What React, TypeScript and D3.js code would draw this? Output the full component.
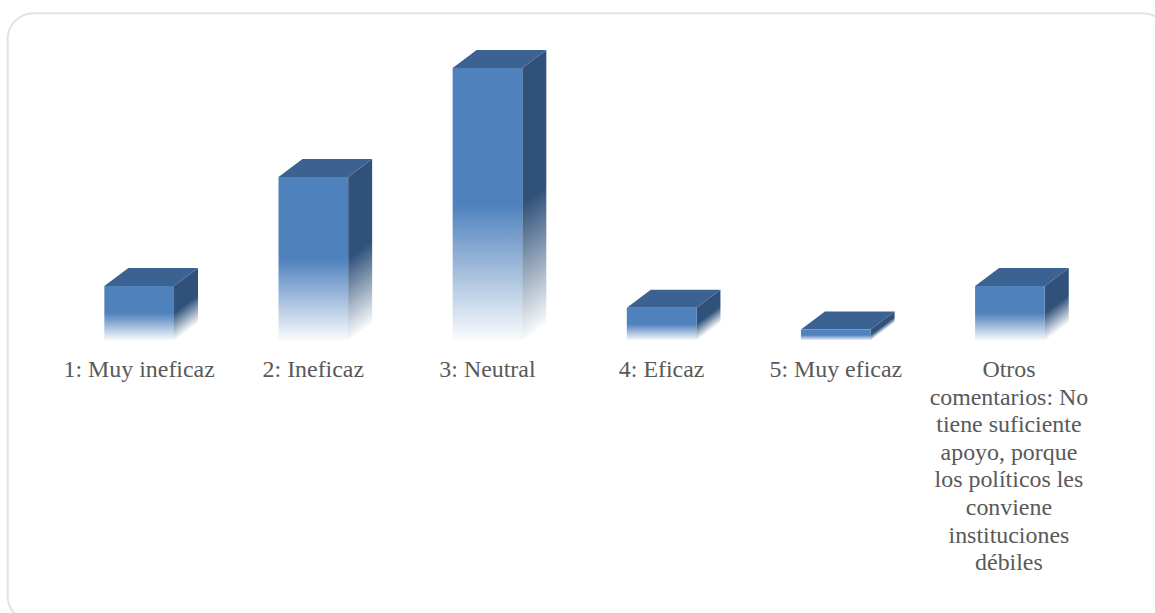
import React from "react";
import * as d3 from "d3";

const categories = ["1: Muy ineficaz", "2: Ineficaz", "3: Neutral", "4: Eficaz", "5: Muy eficaz", "Otros comentarios"];
const categoryLines = [
  ["1: Muy ineficaz"],
  ["2: Ineficaz"],
  ["3: Neutral"],
  ["4: Eficaz"],
  ["5: Muy eficaz"],
  ["Otros", "comentarios: No", "tiene suficiente", "apoyo, porque", "los políticos les", "conviene", "instituciones", "débiles"],
];
const values = [5, 15, 25, 3, 1, 5];

const width = 1155;
const height = 613;
const depthX = 24;
const depthY = 18;
const baseY = 340.5;

const x = d3.scaleBand<string>().domain(categories).range([52.1, 1097]).paddingInner(0.6).paddingOuter(0.3);
const y = d3.scaleLinear().domain([0, 25]).range([baseY, 68]);

export default function App() {
  const barW = x.bandwidth();
  return (
    <svg
      width={width}
      height={height}
      viewBox={`0 0 ${width} ${height}`}
      style={{ position: "fixed", left: 0, top: 0, display: "block", background: "#fff" }}
    >
      <defs>
        {values.map((v, i) => {
          const x0 = x(categories[i])! + barW;
          const top = y(v);
          const slope = -depthY / depthX;
          return (
            <React.Fragment key={i}>
              <linearGradient id={`front-${i}`} gradientUnits="userSpaceOnUse" x1={0} x2={0} y1={top} y2={baseY}>
                <stop offset="0" stopColor="#4f81bd" />
                <stop offset="0.5" stopColor="#4f81bd" />
                <stop offset="1" stopColor="#4f81bd" stopOpacity={0.03} />
              </linearGradient>
              <linearGradient
                id={`side-${i}`}
                gradientUnits="userSpaceOnUse"
                x1={0}
                x2={0}
                y1={top}
                y2={baseY}
                gradientTransform={`translate(${x0} 0) matrix(1 ${slope} 0 1 0 0) translate(${-x0} 0)`}
              >
                <stop offset="0" stopColor="#30527a" />
                <stop offset="0.5" stopColor="#30527a" />
                <stop offset="1" stopColor="#30527a" stopOpacity={0.03} />
              </linearGradient>
            </React.Fragment>
          );
        })}
      </defs>

      <rect x={7.6} y={13.3} width={1161.5} height={608.5} rx={26} ry={26} fill="#fff" stroke="#e2e2e2" strokeWidth={2} />

      {values.map((v, i) => {
        const left = x(categories[i])!;
        const right = left + barW;
        const top = y(v);
        const topFace = d3.path();
        topFace.moveTo(left, top);
        topFace.lineTo(left + depthX, top - depthY);
        topFace.lineTo(right + depthX, top - depthY);
        topFace.lineTo(right, top);
        topFace.closePath();
        const sideFace = d3.path();
        sideFace.moveTo(right, top);
        sideFace.lineTo(right + depthX, top - depthY);
        sideFace.lineTo(right + depthX, baseY - depthY);
        sideFace.lineTo(right, baseY);
        sideFace.closePath();
        return (
          <g key={categories[i]}>
            <path d={sideFace.toString()} fill={`url(#side-${i})`} />
            <path d={topFace.toString()} fill="#3c6291" />
            <rect x={left} y={top} width={barW} height={baseY - top} fill={`url(#front-${i})`} />
          </g>
        );
      })}

      {categoryLines.map((lines, i) => (
        <text
          key={categories[i]}
          textAnchor="middle"
          fontFamily="'Liberation Serif', serif"
          fontSize={23.9}
          fill="#595959"
        >
          {lines.map((line, j) => (
            <tspan key={j} x={x(categories[i])! + barW / 2 - (i === 5 ? 1 : 0)} y={377 + j * 27.6}>
              {line}
            </tspan>
          ))}
        </text>
      ))}
    </svg>
  );
}
